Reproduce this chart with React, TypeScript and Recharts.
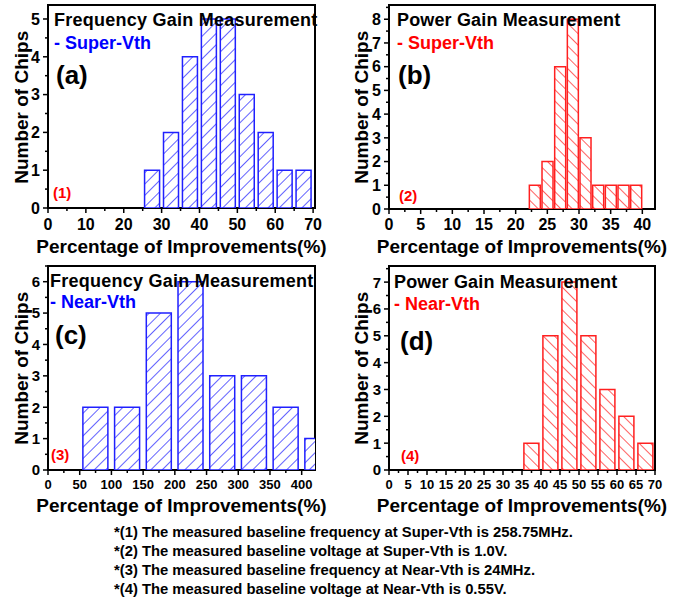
import React from "react";
import { BarChart, Bar, XAxis, YAxis, ReferenceArea } from "recharts";

const FONT = '"Liberation Sans", Arial, Helvetica, sans-serif';
const BLUE = "#0000ff";
const RED = "#ff0000";

// (a) frequency gain, super-Vth (bin centers, 5% wide)
const binsA = [27.5, 32.5, 37.5, 42.5, 47.5, 52.5, 57.5, 62.5, 67.5];
const countsA = [1, 2, 4, 5, 5, 3, 2, 1, 1];
const xTicksA = [0, 10, 20, 30, 40, 50, 60, 70];
const yTicksA = [0, 1, 2, 3, 4, 5];

// (b) power gain, super-Vth (2% wide)
const binsB = [23, 25, 27, 29, 31, 33, 35, 37, 39];
const countsB = [1, 2, 6, 8, 3, 1, 1, 1, 1];
const xTicksB = [0, 5, 10, 15, 20, 25, 30, 35, 40];
const yTicksB = [0, 1, 2, 3, 4, 5, 6, 7, 8];

// (c) frequency gain, near-Vth (50% wide)
const binsC = [75, 125, 175, 225, 275, 325, 375, 425];
const countsC = [2, 2, 5, 6, 3, 3, 2, 1];
const xTicksC = [0, 50, 100, 150, 200, 250, 300, 350, 400];
const yTicksC = [0, 1, 2, 3, 4, 5, 6];

// (d) power gain, near-Vth (5% wide)
const binsD = [37.5, 42.5, 47.5, 52.5, 57.5, 62.5, 67.5];
const countsD = [1, 5, 7, 5, 3, 2, 1];
const xTicksD = [0, 5, 10, 15, 20, 25, 30, 35, 40, 45, 50, 55, 60, 65, 70];
const yTicksD = [0, 1, 2, 3, 4, 5, 6, 7];

const footnotes = [
  "*(1) The measured baseline frequency at Super-Vth is 258.75MHz.",
  "*(2) The measured baseline voltage at Super-Vth is 1.0V.",
  "*(3) The measured baseline frequency at Near-Vth is 24MHz.",
  "*(4) The measured baseline voltage at Near-Vth is 0.55V.",
];

// majors plus the midpoints between them
const withMinor = (major: number[], max: number) => {
  const step = major[1] - major[0];
  const out: number[] = [];
  major.forEach((v) => {
    out.push(v);
    if (v + step / 2 <= max) out.push(v + step / 2);
  });
  return out;
};

function XTick(props: any) {
  const { x, y, payload, major, fontSize, gap } = props;
  const isMajor = major.includes(payload.value);
  return (
    <g>
      <line x1={x} x2={x} y1={y} y2={y + (isMajor ? 5 : 3)} stroke="#000" strokeWidth={1.5} />
      {isMajor && (
        <text x={x} y={y + gap} dy="0.72em" textAnchor="middle" fontSize={fontSize} fontWeight="bold" fontFamily={FONT} fill="#000">
          {payload.value}
        </text>
      )}
    </g>
  );
}

function YTick(props: any) {
  const { x, y, payload, major, fontSize } = props;
  const isMajor = major.includes(payload.value);
  return (
    <g>
      <line x1={x} x2={x - (isMajor ? 5 : 3)} y1={y} y2={y} stroke="#000" strokeWidth={1.5} />
      {isMajor && (
        <text x={x - 8} y={y} dy="0.36em" textAnchor="end" fontSize={fontSize} fontWeight="bold" fontFamily={FONT} fill="#000">
          {payload.value}
        </text>
      )}
    </g>
  );
}

function Panel(props: any) {
  const { id, left, top, width, height, margin, bins, counts, xMax, yMax, xTicks, yTicks, xFont, yFont, xGap, color, angle, gap } = props;
  const data = bins.map((b: number, i: number) => ({ x: b, count: counts[i] }));
  return (
    <div style={{ position: "absolute", left, top }}>
      <BarChart width={width} height={height} data={data} margin={margin} barCategoryGap={gap}>
        <defs>
          <pattern id={id} width={8} height={8} patternUnits="userSpaceOnUse" patternTransform={`rotate(${angle})`}>
            <rect width={8} height={8} fill="#fff" />
            <line x1={0} y1={0} x2={0} y2={8} stroke={color} strokeWidth={1.4} />
          </pattern>
        </defs>
        <XAxis
          dataKey="x"
          type="number"
          domain={[0, xMax]}
          allowDataOverflow
          ticks={withMinor(xTicks, xMax)}
          interval={0}
          height={30}
          tickSize={0}
          tickMargin={0}
          axisLine={false}
          tickLine={false}
          tick={(p: any) => <XTick {...p} major={xTicks} fontSize={xFont} gap={xGap} />}
        />
        <YAxis
          type="number"
          domain={[0, yMax]}
          allowDataOverflow
          ticks={withMinor(yTicks, yMax)}
          interval={0}
          width={40}
          tickSize={0}
          tickMargin={0}
          axisLine={false}
          tickLine={false}
          tick={(p: any) => <YTick {...p} major={yTicks} fontSize={yFont} />}
        />
        <Bar dataKey="count" fill={`url(#${id})`} stroke={color} strokeWidth={1.5} isAnimationActive={false} />
        <ReferenceArea x1={0} x2={xMax} y1={0} y2={yMax} fill="none" stroke="#000" strokeWidth={2} ifOverflow="visible" />
      </BarChart>
    </div>
  );
}

function Note({ x, y, size, color = "#000", spacing = 0, children }: any) {
  return (
    <div
      style={{
        position: "absolute",
        left: x,
        top: y - 0.49 * size,
        fontSize: size,
        lineHeight: 1,
        fontWeight: "bold",
        fontFamily: FONT,
        letterSpacing: spacing,
        color,
        whiteSpace: "nowrap",
      }}
    >
      {children}
    </div>
  );
}

function XTitle({ cx, cy }: any) {
  return (
    <div
      style={{
        position: "absolute",
        left: cx - 200,
        width: 400,
        top: cy - 0.49 * 19,
        textAlign: "center",
        fontSize: 19,
        lineHeight: 1,
        fontWeight: "bold",
        fontFamily: FONT,
        whiteSpace: "nowrap",
      }}
    >
      Percentage of Improvements(%)
    </div>
  );
}

function YTitle({ cx, cy }: any) {
  return (
    <div
      style={{
        position: "absolute",
        left: cx - 100,
        width: 200,
        top: cy - 0.49 * 19,
        textAlign: "center",
        fontSize: 19,
        lineHeight: 1,
        fontWeight: "bold",
        fontFamily: FONT,
        whiteSpace: "nowrap",
        transform: "rotate(-90deg)",
        transformOrigin: `100px ${0.49 * 19}px`,
      }}
    >
      Number of Chips
    </div>
  );
}

export default function App() {
  return (
    <div style={{ position: "absolute", left: 0, top: 0, width: 686, height: 603, background: "#fff", overflow: "hidden" }}>
      <Panel
        id="hatch-a" left={0} top={0} width={340} height={250}
        margin={{ top: 5, right: 25, left: 8, bottom: 12 }}
        bins={binsA} counts={countsA} xMax={70.5} yMax={5.37}
        xTicks={xTicksA} yTicks={yTicksA} xFont={16} yFont={16} xGap={10}
        color="#2020ff" angle={45} gap="10%"
      />
      <Panel
        id="hatch-b" left={340} top={0} width={346} height={250}
        margin={{ top: 5, right: 31, left: 9, bottom: 11 }}
        bins={binsB} counts={countsB} xMax={42} yMax={8.6}
        xTicks={xTicksB} yTicks={yTicksB} xFont={16} yFont={16} xGap={9}
        color="#ff2020" angle={-45} gap="8%"
      />
      <Panel
        id="hatch-c" left={0} top={258} width={340} height={250}
        margin={{ top: 8, right: 25, left: 8, bottom: 8 }}
        bins={binsC} counts={countsC} xMax={421} yMax={6.5}
        xTicks={xTicksC} yTicks={yTicksC} xFont={13} yFont={15} xGap={10}
        color="#2020ff" angle={45} gap="10%"
      />
      <Panel
        id="hatch-d" left={340} top={258} width={346} height={250}
        margin={{ top: 8, right: 31, left: 9, bottom: 8 }}
        bins={binsD} counts={countsD} xMax={70} yMax={7.6}
        xTicks={xTicksD} yTicks={yTicksD} xFont={13} yFont={15} xGap={10}
        color="#ff2020" angle={-45} gap="10%"
      />

      <Note x={54} y={20} size={18} spacing={0.25}>Frequency Gain Measurement</Note>
      <Note x={54} y={43} size={18} color={BLUE}>- Super-Vth</Note>
      <Note x={56} y={75} size={26}>(a)</Note>
      <Note x={53} y={192} size={15} color={RED}>(1)</Note>

      <Note x={397} y={20} size={18} spacing={0.15}>Power Gain Measurement</Note>
      <Note x={397} y={43} size={18} color={RED}>- Super-Vth</Note>
      <Note x={398} y={75} size={26}>(b)</Note>
      <Note x={399} y={195} size={15} color={RED}>(2)</Note>

      <Note x={50} y={281} size={18} spacing={0.25}>Frequency Gain Measurement</Note>
      <Note x={50} y={302} size={18} color={BLUE}>- Near-Vth</Note>
      <Note x={55} y={335} size={26}>(c)</Note>
      <Note x={51} y={454} size={15} color={RED}>(3)</Note>

      <Note x={394} y={282} size={18} spacing={0.15}>Power Gain Measurement</Note>
      <Note x={394} y={304} size={18} color={RED}>- Near-Vth</Note>
      <Note x={400} y={341} size={26}>(d)</Note>
      <Note x={401} y={455} size={15} color={RED}>(4)</Note>

      <YTitle cx={21} cy={107} />
      <YTitle cx={361} cy={107} />
      <YTitle cx={21} cy={368} />
      <YTitle cx={361} cy={368} />
      <XTitle cx={181.5} cy={246} />
      <XTitle cx={522} cy={246} />
      <XTitle cx={181.5} cy={505} />
      <XTitle cx={522} cy={505} />

      {footnotes.map((t, i) => (
        <Note key={i} x={114} y={532 + i * 19} size={14.8}>
          {t}
        </Note>
      ))}
    </div>
  );
}
